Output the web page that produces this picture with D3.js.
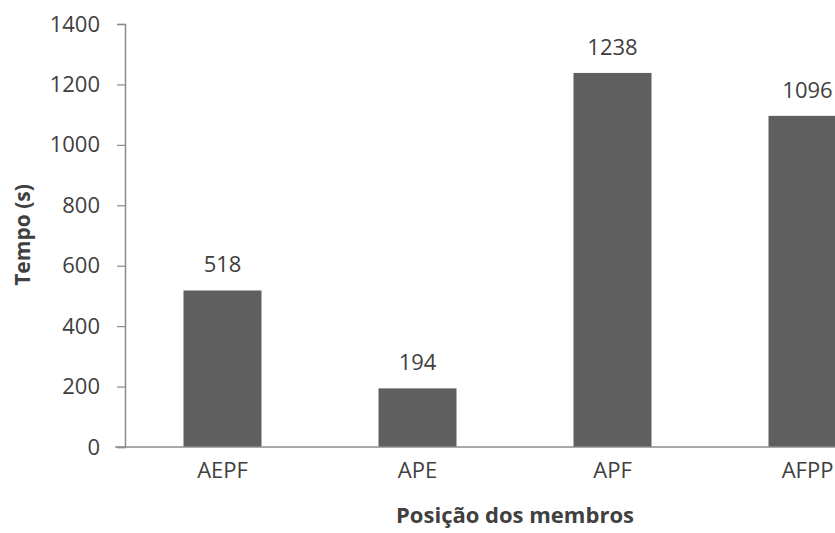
<!DOCTYPE html>
<html><head><meta charset="utf-8">
<script src="https://cdn.jsdelivr.net/npm/d3@7"></script>
<style>
body{margin:0;background:#fff;}
text{font-family:"Open Sans",sans-serif;fill:#404040;}
</style></head>
<body><svg id="c" width="835" height="533"></svg>
<script>
const categories = ["AEPF","APE","APF","AFPP"];
const values = [518,194,1238,1096];
const yTicks = [0,200,400,600,800,1000,1200,1400];

const svg = d3.select("#c");
const x0 = 125, x1 = 905, yTop = 24, yBot = 447;
const x = d3.scaleBand().domain(categories).range([x0,x1]).paddingInner(0.6).paddingOuter(0.3);
const y = d3.scaleLinear().domain([0,1400]).range([yBot,yTop]);

// y axis
const ya = svg.append("g").attr("transform",`translate(${x0},0)`)
  .call(d3.axisLeft(y).tickValues(yTicks).tickFormat(d3.format("d")).tickSize(8).tickPadding(17));
ya.select(".domain").attr("stroke","#8c8c8c").attr("stroke-width",1.5);
ya.selectAll(".tick line").attr("stroke","#8c8c8c").attr("stroke-width",1.2);
ya.selectAll(".tick text").style("font-size","22px").attr("fill","#404040").style("font-family","'Open Sans',sans-serif");

// bars
svg.selectAll("rect.bar").data(values).enter().append("rect")
  .attr("x",(d,i)=>x(categories[i])).attr("width",x.bandwidth())
  .attr("y",d=>y(d)).attr("height",d=>yBot-y(d)).attr("fill","#5f5f5f");

// x axis
const xa = svg.append("g").attr("transform",`translate(0,${yBot})`)
  .call(d3.axisBottom(x).tickSize(0));
xa.select(".domain").attr("stroke","#8c8c8c").attr("stroke-width",1.5).attr("d",`M${x0-10},0H${x1}`);
xa.selectAll(".tick text").attr("y",31).attr("dy",0).style("font-size","22px").attr("fill","#404040").style("font-family","'Open Sans',sans-serif");

// value labels
svg.selectAll("text.val").data(values).enter().append("text")
  .attr("class","val")
  .attr("x",(d,i)=>x(categories[i])+x.bandwidth()/2)
  .attr("y",d=>y(d)-18).attr("text-anchor","middle")
  .style("font-size","22px").text(d=>d);

// axis titles
svg.append("text").attr("x",(x0+x1)/2).attr("y",523).attr("text-anchor","middle")
  .style("font-size","22px").style("font-weight","bold").attr("fill","#222").text("Posição dos membros");
svg.append("text").attr("transform","translate(30,235) rotate(-90)").attr("text-anchor","middle")
  .style("font-size","21px").style("font-weight","bold").attr("fill","#222").text("Tempo (s)");
</script></body></html>
